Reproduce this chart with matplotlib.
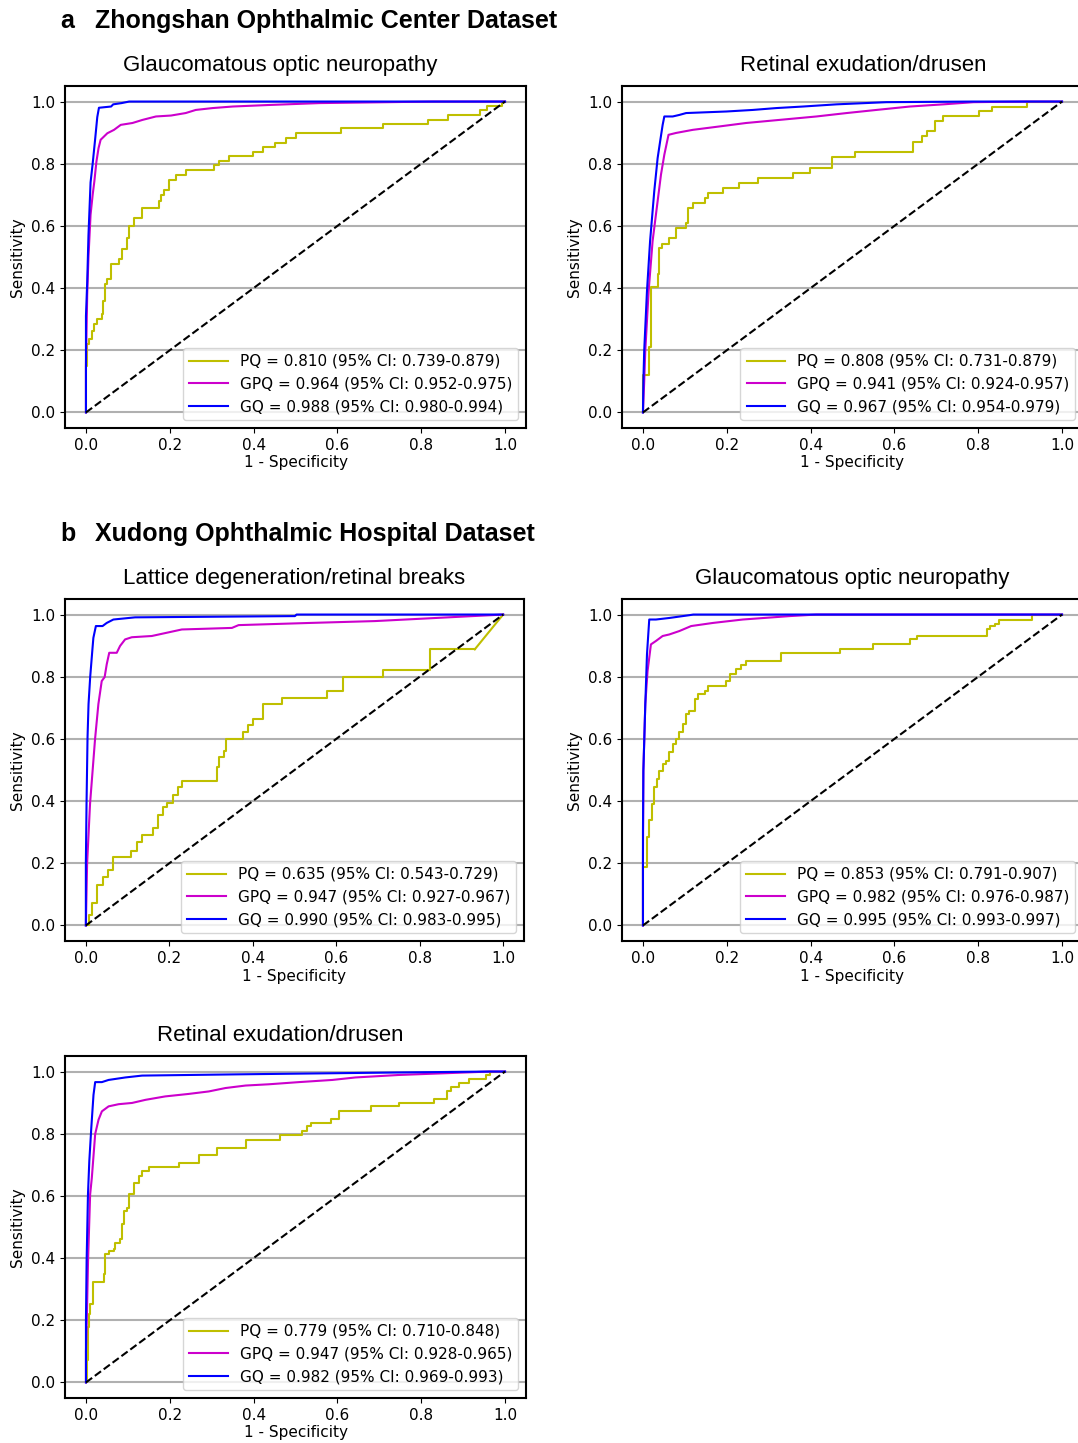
import numpy as np
import matplotlib
matplotlib.use("Agg")
import matplotlib.pyplot as plt

plt.rcParams['font.family'] = ['DejaVu Sans']

# ---------------- data ----------------
section_labels = ["a", "b"]
section_titles = ["Zhongshan Ophthalmic Center Dataset", "Xudong Ophthalmic Hospital Dataset"]
panel_titles = ["Glaucomatous optic neuropathy", "Retinal exudation/drusen",
                "Lattice degeneration/retinal breaks", "Glaucomatous optic neuropathy",
                "Retinal exudation/drusen"]
model_names = ["PQ", "GPQ", "GQ"]

auc_text = [
    ["0.810 (95% CI: 0.739-0.879)", "0.964 (95% CI: 0.952-0.975)", "0.988 (95% CI: 0.980-0.994)"],
    ["0.808 (95% CI: 0.731-0.879)", "0.941 (95% CI: 0.924-0.957)", "0.967 (95% CI: 0.954-0.979)"],
    ["0.635 (95% CI: 0.543-0.729)", "0.947 (95% CI: 0.927-0.967)", "0.990 (95% CI: 0.983-0.995)"],
    ["0.853 (95% CI: 0.791-0.907)", "0.982 (95% CI: 0.976-0.987)", "0.995 (95% CI: 0.993-0.997)"],
    ["0.779 (95% CI: 0.710-0.848)", "0.947 (95% CI: 0.928-0.965)", "0.982 (95% CI: 0.969-0.993)"],
]

# Panel 1: ZOC glaucomatous optic neuropathy
p1_pq_fpr = [0, 0.000, 0.002, 0.007, 0.014, 0.019, 0.027, 0.038, 0.041, 0.046, 0.051, 0.059, 0.079, 0.085,
             0.099, 0.103, 0.115, 0.133, 0.175, 0.179, 0.187, 0.199, 0.216, 0.238, 0.306, 0.318, 0.342,
             0.398, 0.422, 0.450, 0.478, 0.502, 0.609, 0.709, 0.817, 0.864, 0.940, 0.958, 0.992, 1.0]
p1_pq_tpr = [0, 0.151, 0.220, 0.236, 0.263, 0.284, 0.300, 0.316, 0.359, 0.412, 0.428, 0.476, 0.493, 0.525,
             0.562, 0.599, 0.626, 0.658, 0.679, 0.701, 0.717, 0.749, 0.765, 0.779, 0.795, 0.808, 0.824,
             0.838, 0.853, 0.866, 0.882, 0.898, 0.915, 0.927, 0.941, 0.957, 0.973, 0.987, 1.0, 1.0]
p1_gpq_fpr = [0, 0, 0.003, 0.006, 0.011, 0.016, 0.020, 0.025, 0.030, 0.035, 0.051, 0.067, 0.083, 0.111,
              0.135, 0.167, 0.203, 0.238, 0.262, 0.302, 0.350, 0.438, 0.557, 0.829, 1.0]
p1_gpq_tpr = [0, 0.155, 0.38, 0.50, 0.636, 0.70, 0.743, 0.807, 0.85, 0.877, 0.898, 0.909, 0.925, 0.931,
              0.941, 0.952, 0.955, 0.963, 0.973, 0.979, 0.984, 0.989, 0.995, 1.0, 1.0]
p1_gq_fpr = [0, 0, 0.003, 0.006, 0.011, 0.016, 0.022, 0.027, 0.031, 0.060, 0.065, 0.085, 0.103, 1.0]
p1_gq_tpr = [0, 0.31, 0.42, 0.57, 0.74, 0.80, 0.88, 0.95, 0.98, 0.984, 0.991, 0.995, 1.0, 1.0]

# Panel 2: ZOC retinal exudation/drusen
p2_pq_fpr = [0, 0.001, 0.0136, 0.019, 0.035, 0.039, 0.045, 0.063, 0.079, 0.103, 0.107, 0.119, 0.147, 0.155,
             0.191, 0.230, 0.274, 0.358, 0.398, 0.450, 0.506, 0.645, 0.665, 0.677, 0.697, 0.717, 0.801,
             0.833, 0.916, 1.0]
p2_pq_tpr = [0, 0.119, 0.209, 0.402, 0.444, 0.530, 0.541, 0.562, 0.594, 0.610, 0.658, 0.674, 0.690, 0.706,
             0.722, 0.738, 0.754, 0.770, 0.786, 0.821, 0.837, 0.870, 0.888, 0.904, 0.936, 0.952, 0.968,
             0.984, 1.0, 1.0]
p2_gpq_fpr = [0, 0.003, 0.0056, 0.0136, 0.023, 0.033, 0.043, 0.051, 0.061, 0.079, 0.119, 0.183, 0.246,
              0.326, 0.414, 0.486, 0.557, 0.637, 0.717, 0.789, 0.912, 1.0]
p2_gpq_tpr = [0, 0.1, 0.199, 0.391, 0.551, 0.658, 0.765, 0.829, 0.893, 0.899, 0.909, 0.920, 0.931,
              0.941, 0.952, 0.963, 0.973, 0.984, 0.991, 0.998, 1.0, 1.0]
p2_gq_fpr = [0, 0.001, 0.003, 0.0096, 0.017, 0.027, 0.035, 0.041, 0.047, 0.051, 0.071, 0.087, 0.103,
             0.199, 0.262, 0.318, 0.382, 0.462, 0.581, 0.789, 1.0]
p2_gq_tpr = [0, 0.1, 0.199, 0.391, 0.551, 0.712, 0.818, 0.872, 0.925, 0.952, 0.952, 0.957, 0.963,
             0.968, 0.973, 0.979, 0.984, 0.991, 0.998, 1.0, 1.0]

# Panel 3: XOH lattice degeneration/retinal breaks
p3_pq_fpr = [0, 0.007, 0.014, 0.026, 0.040, 0.054, 0.066, 0.109, 0.122, 0.134, 0.162, 0.174, 0.186, 0.194,
             0.210, 0.222, 0.230, 0.314, 0.318, 0.332, 0.335, 0.377, 0.389, 0.401, 0.425, 0.469, 0.577,
             0.617, 0.713, 0.824, 0.932, 1.0]
p3_pq_tpr = [0, 0.035, 0.071, 0.129, 0.156, 0.177, 0.220, 0.241, 0.268, 0.290, 0.314, 0.354, 0.380, 0.394,
             0.418, 0.444, 0.466, 0.509, 0.541, 0.560, 0.599, 0.621, 0.645, 0.663, 0.712, 0.731, 0.754,
             0.799, 0.821, 0.888, 0.888, 1.0]
p3_gpq_fpr = [0, 0.003, 0.010, 0.022, 0.030, 0.038, 0.045, 0.050, 0.056, 0.074, 0.082, 0.094, 0.110,
              0.158, 0.182, 0.230, 0.350, 0.366, 0.537, 0.693, 1.0]
p3_gpq_tpr = [0, 0.199, 0.391, 0.599, 0.712, 0.786, 0.799, 0.840, 0.877, 0.877, 0.899, 0.920, 0.927,
              0.931, 0.938, 0.952, 0.957, 0.966, 0.973, 0.979, 1.0]
p3_gq_fpr = [0, 0.0, 0.0016, 0.004, 0.0064, 0.0104, 0.016, 0.018, 0.024, 0.040, 0.050, 0.066, 0.118,
             0.501, 0.505, 1.0]
p3_gq_tpr = [0, 0.2, 0.391, 0.605, 0.712, 0.800, 0.893, 0.925, 0.963, 0.963, 0.973, 0.984, 0.991,
             0.995, 1.0, 1.0]

# Panel 4: XOH glaucomatous optic neuropathy
p4_pq_fpr = [0, 0.001, 0.009, 0.015, 0.0215, 0.027, 0.033, 0.039, 0.047, 0.055, 0.063, 0.071, 0.079, 0.087,
             0.095, 0.103, 0.111, 0.123, 0.131, 0.147, 0.155, 0.199, 0.207, 0.222, 0.234, 0.246, 0.330,
             0.470, 0.549, 0.637, 0.653, 0.821, 0.829, 0.841, 0.849, 0.928, 1.0]
p4_pq_tpr = [0, 0.188, 0.284, 0.338, 0.391, 0.444, 0.471, 0.498, 0.519, 0.530, 0.557, 0.583, 0.599, 0.621,
             0.647, 0.679, 0.690, 0.728, 0.744, 0.754, 0.770, 0.786, 0.808, 0.824, 0.838, 0.850, 0.877,
             0.890, 0.904, 0.920, 0.931, 0.952, 0.963, 0.970, 0.984, 1.0, 1.0]
p4_gpq_fpr = [0, 0, 0.001, 0.0056, 0.011, 0.019, 0.031, 0.047, 0.063, 0.087, 0.115, 0.167, 0.238, 0.350,
              0.414, 1.0]
p4_gpq_tpr = [0, 0.199, 0.498, 0.712, 0.818, 0.904, 0.915, 0.931, 0.936, 0.947, 0.963, 0.973, 0.984,
              0.995, 1.0, 1.0]
p4_gq_fpr = [0, 0.0, 0.001, 0.0056, 0.0096, 0.015, 0.031, 0.063, 0.111, 0.12, 1.0]
p4_gq_tpr = [0, 0.3, 0.498, 0.712, 0.872, 0.984, 0.984, 0.989, 0.998, 1.0, 1.0]

# Panel 5: XOH retinal exudation/drusen
p5_pq_fpr = [0, 0.0024, 0.0048, 0.008, 0.0104, 0.016, 0.042, 0.046, 0.054, 0.066, 0.070, 0.082, 0.086,
             0.090, 0.098, 0.102, 0.114, 0.126, 0.134, 0.150, 0.221, 0.269, 0.313, 0.381, 0.464, 0.516,
             0.528, 0.536, 0.584, 0.604, 0.679, 0.747, 0.830, 0.862, 0.870, 0.890, 0.914, 0.954, 0.963, 1.0]
p5_pq_tpr = [0, 0.071, 0.177, 0.220, 0.252, 0.322, 0.348, 0.412, 0.423, 0.428, 0.450, 0.460, 0.509,
             0.551, 0.562, 0.605, 0.642, 0.663, 0.679, 0.692, 0.706, 0.733, 0.754, 0.781, 0.795, 0.808,
             0.824, 0.834, 0.848, 0.872, 0.888, 0.899, 0.912, 0.936, 0.949, 0.963, 0.976, 0.989, 1.0, 1.0]
p5_gpq_fpr = [0, 0.0, 0.002, 0.005, 0.010, 0.014, 0.022, 0.030, 0.038, 0.054, 0.078, 0.110, 0.142, 0.189,
              0.245, 0.293, 0.333, 0.381, 0.436, 0.508, 0.588, 0.643, 0.747, 0.866, 0.962, 1.0]
p5_gpq_tpr = [0, 0.1, 0.2, 0.391, 0.605, 0.658, 0.799, 0.845, 0.872, 0.888, 0.895, 0.899, 0.909, 0.920,
              0.928, 0.936, 0.947, 0.955, 0.959, 0.966, 0.973, 0.981, 0.989, 0.995, 1.0, 1.0]
p5_gq_fpr = [0, 0.0, 0.0016, 0.0048, 0.008, 0.0127, 0.018, 0.022, 0.038, 0.054, 0.094, 0.134, 0.362,
             0.747, 0.962, 1.0]
p5_gq_tpr = [0, 0.2, 0.391, 0.605, 0.712, 0.818, 0.925, 0.966, 0.966, 0.973, 0.981, 0.987, 0.991,
             0.997, 1.0, 1.0]

panels = [
    (p1_pq_fpr, p1_pq_tpr, p1_gpq_fpr, p1_gpq_tpr, p1_gq_fpr, p1_gq_tpr),
    (p2_pq_fpr, p2_pq_tpr, p2_gpq_fpr, p2_gpq_tpr, p2_gq_fpr, p2_gq_tpr),
    (p3_pq_fpr, p3_pq_tpr, p3_gpq_fpr, p3_gpq_tpr, p3_gq_fpr, p3_gq_tpr),
    (p4_pq_fpr, p4_pq_tpr, p4_gpq_fpr, p4_gpq_tpr, p4_gq_fpr, p4_gq_tpr),
    (p5_pq_fpr, p5_pq_tpr, p5_gpq_fpr, p5_gpq_tpr, p5_gq_fpr, p5_gq_tpr),
]

# ---------------- layout ----------------
W, H = 1078, 1443
fig = plt.figure(figsize=(W / 100, H / 100), dpi=100)

def frac_box(left, top, right, bottom):
    return [left / W, 1 - bottom / H, (right - left) / W, (bottom - top) / H]

boxes = [frac_box(65, 86, 526, 428), frac_box(622, 86, 1083, 428),
         frac_box(65, 599, 524, 941), frac_box(622, 599, 1083, 941),
         frac_box(65, 1056, 526, 1398)]
title_x = [0.466, 0.523, 0.5, 0.5, 0.466]

colors = ['#bfbf00', '#cc00cc', '#0000ff']
head_font = ['Liberation Sans', 'DejaVu Sans']

for i, (box, data) in enumerate(zip(boxes, panels)):
    ax = fig.add_axes(box)
    pq_f, pq_t, gpq_f, gpq_t, gq_f, gq_t = data
    # PQ: staircase ROC
    ax.plot(pq_f[:-1], pq_t[:-1], drawstyle='steps-post', color=colors[0], lw=1.5,
            label=f"{model_names[0]} = {auc_text[i][0]}")
    ax.plot(pq_f[-2:], pq_t[-2:], color=colors[0], lw=1.5)
    ax.plot(gpq_f, gpq_t, color=colors[1], lw=1.5, label=f"{model_names[1]} = {auc_text[i][1]}")
    ax.plot(gq_f, gq_t, color=colors[2], lw=1.5, label=f"{model_names[2]} = {auc_text[i][2]}")
    ax.plot([0, 1], [0, 1], 'k--', lw=1.5)
    ax.set_xlim(-0.05, 1.05)
    ax.set_ylim(-0.05, 1.05)
    ax.set_xticks([0, 0.2, 0.4, 0.6, 0.8, 1.0])
    ax.set_yticks([0, 0.2, 0.4, 0.6, 0.8, 1.0])
    ax.yaxis.grid(True, color='#b0b0b0', lw=1.5)
    ax.set_axisbelow(True)
    for s in ax.spines.values():
        s.set_linewidth(1.5)
    ax.tick_params(labelsize=11)
    ax.set_xlabel("1 - Specificity", fontsize=11, labelpad=2)
    ax.set_ylabel("Sensitivity", fontsize=11)
    ax.set_title(panel_titles[i], x=title_x[i], fontsize=16, family=head_font, pad=11)
    ax.legend(loc='lower right', fontsize=11, handlelength=2.5)

for lab, txt, y in zip(section_labels, section_titles, [21, 534]):
    fig.text(60 / W, 1 - y / H, lab, fontsize=18, fontweight='bold', family=head_font, va='center')
    fig.text(95 / W, 1 - y / H, txt, fontsize=18, fontweight='bold', family=head_font, va='center')

fig.savefig("out.png", dpi=100)
